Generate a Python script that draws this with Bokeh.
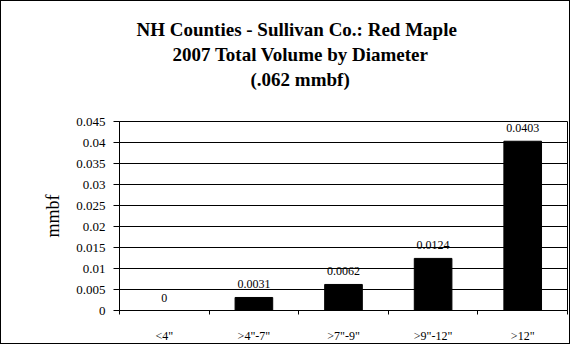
from bokeh.plotting import figure
from bokeh.models import ColumnDataSource, FixedTicker, Range1d, Title, LabelSet
from bokeh.embed import file_html
from bokeh.resources import INLINE

categories = ['<4"', '>4"-7"', '>7"-9"', '>9"-12"', '>12"']
volumes = [0.0, 0.0031, 0.0062, 0.0124, 0.0403]
value_labels = ["0", "0.0031", "0.0062", "0.0124", "0.0403"]
y_ticks = [0.0, 0.005, 0.01, 0.015, 0.02, 0.025, 0.03, 0.035, 0.04, 0.045]
y_tick_labels = ["0", "0.005", "0.01", "0.015", "0.02", "0.025", "0.03", "0.035", "0.04", "0.045"]
title_lines = ["NH Counties - Sullivan Co.: Red Maple", "2007 Total Volume by Diameter", "(.062 mmbf)"]

FONT = "Liberation Serif"

xpos = [i + 0.5 for i in range(len(categories))]
src = ColumnDataSource(dict(x=xpos, top=volumes, lab=value_labels))

p = figure(width=570, height=344, output_backend="svg", toolbar_location=None,
           x_range=Range1d(0, len(categories)), y_range=Range1d(0, 0.045),
           min_border_left=118, min_border_right=4, min_border_top=120, min_border_bottom=32)
p.styles = {"border": "1px solid black", "box-sizing": "border-box"}
p.outline_line_color = "black"
p.outline_line_width = 1
p.background_fill_color = "white"
p.border_fill_color = "white"

p.vbar(x="x", top="top", width=0.42, bottom=0, source=src, fill_color="black", line_color="black")

p.add_layout(LabelSet(x="x", y="top", text="lab", source=src, text_align="center",
                      text_baseline="bottom", y_offset=9, text_font=FONT,
                      text_font_size="12px", text_color="black"))

# spacer between the plot and the title block
p.add_layout(Title(text=" ", standoff=8, text_font=FONT, text_font_size="19px"), "above")

# Titles (first added is nearest the plot); left-aligned with offsets to centre them on the chart
offsets = [17, 53, 131]
standoffs = [2, 2, 2]
for line, off, so in zip(reversed(title_lines), reversed(offsets), reversed(standoffs)):
    p.add_layout(Title(text=line, align="left", offset=off, standoff=so, text_font=FONT,
                       text_font_size="19px", text_font_style="bold", text_color="black"), "above")

# X axis
p.xaxis.ticker = FixedTicker(ticks=xpos, minor_ticks=list(range(len(categories) + 1)))
p.xaxis.major_label_overrides = {x: c for x, c in zip(xpos, categories)}
p.xaxis.major_tick_line_color = None
p.xaxis.major_tick_out = 0
p.xaxis.minor_tick_out = 4
p.xaxis.minor_tick_in = 0
p.xaxis.minor_tick_line_color = "black"
p.xaxis.major_label_standoff = 14
p.xaxis.major_label_text_font = FONT
p.xaxis.major_label_text_font_size = "12px"
p.xaxis.major_label_text_color = "black"
p.xaxis.axis_line_color = "black"

# Y axis
p.yaxis.ticker = FixedTicker(ticks=y_ticks)
p.yaxis.major_label_overrides = {t: l for t, l in zip(y_ticks, y_tick_labels)}
p.yaxis.major_tick_out = 6
p.yaxis.major_tick_in = 0
p.yaxis.minor_tick_line_color = None
p.yaxis.major_tick_line_color = "black"
p.yaxis.major_label_standoff = 8
p.yaxis.major_label_text_font = FONT
p.yaxis.major_label_text_font_size = "13px"
p.yaxis.major_label_text_color = "black"
p.yaxis.axis_line_color = "black"
p.yaxis.axis_label = "mmbf"
p.yaxis.axis_label_text_font = FONT
p.yaxis.axis_label_text_font_size = "18px"
p.yaxis.axis_label_text_font_style = "normal"
p.yaxis.axis_label_text_color = "black"
p.yaxis.axis_label_standoff = 10

p.xgrid.grid_line_color = None
p.ygrid.grid_line_color = "black"
p.ygrid.grid_line_width = 1

open("out.html", "w").write(file_html(p, INLINE))
